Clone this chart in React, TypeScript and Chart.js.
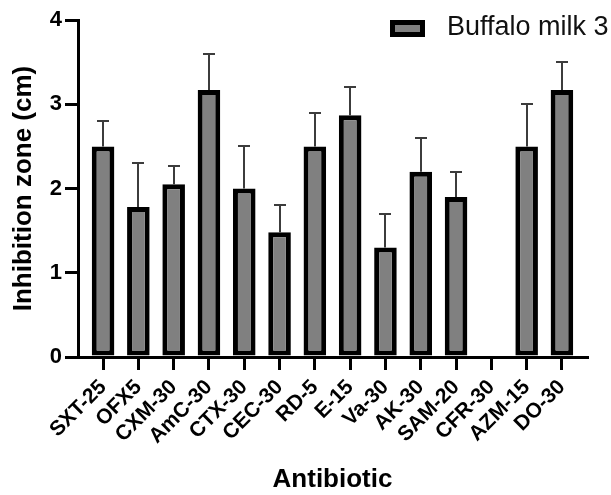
import { useEffect, useRef } from "react";
import { Chart, registerables } from "chart.js";
Chart.register(...registerables);

const categories = ["SXT-25", "OFX5", "CXM-30", "AmC-30", "CTX-30", "CEC-30", "RD-5", "E-15", "Va-30", "AK-30", "SAM-20", "CFR-30", "AZM-15", "DO-30"];
const means = [2.5, 1.78, 2.05, 3.17, 2.0, 1.48, 2.5, 2.87, 1.3, 2.2, 1.9, 0, 2.5, 3.17];
const sds = [0.3, 0.52, 0.22, 0.43, 0.5, 0.32, 0.4, 0.33, 0.4, 0.4, 0.3, 0, 0.5, 0.33];
const yTicks = [0, 1, 2, 3, 4];
const seriesLabel = "Buffalo milk 3";

const FONT = "'Liberation Sans', Arial, sans-serif";

const errorBars = {
  id: "errorBars",
  beforeDatasetsDraw(chart: any) {
    const { ctx } = chart;
    const meta = chart.getDatasetMeta(0);
    const ys = chart.scales.y;
    ctx.save();
    ctx.strokeStyle = "#3c3c3c";
    ctx.lineWidth = 2;
    meta.data.forEach((bar: any, i: number) => {
      if (!sds[i]) return;
      const x = Math.round(bar.x);
      const top = ys.getPixelForValue(means[i]);
      const cap = Math.round(ys.getPixelForValue(means[i] + sds[i]));
      ctx.beginPath();
      ctx.moveTo(x, top);
      ctx.lineTo(x, cap);
      ctx.moveTo(x - 6, cap);
      ctx.lineTo(x + 6, cap);
      ctx.stroke();
    });
    ctx.restore();
  },
};

const customLegend = {
  id: "customLegend",
  afterDraw(chart: any) {
    const { ctx } = chart;
    const ds = chart.data.datasets[0];
    const bx = 390, by = 20, bw = 35, bh = 17;
    ctx.save();
    ctx.fillStyle = ds.backgroundColor;
    ctx.fillRect(bx, by, bw, bh);
    ctx.strokeStyle = "#000";
    ctx.lineWidth = 5;
    ctx.strokeRect(bx + 2.5, by + 2.5, bw - 5, bh - 5);
    ctx.fillStyle = "#111";
    ctx.font = `27px ${FONT}`;
    ctx.textBaseline = "middle";
    ctx.textAlign = "left";
    ctx.fillText(ds.label, 447, 28);
    ctx.restore();
  },
};

export default function App() {
  const ref = useRef<HTMLCanvasElement | null>(null);
  useEffect(() => {
    document.body.style.margin = "0";
    const chart = new Chart(ref.current as HTMLCanvasElement, {
      type: "bar",
      data: {
        datasets: [
          {
            label: seriesLabel,
            data: means.map((v, i) => ({ x: i, y: v })),
            backgroundColor: "#808080",
            borderColor: "#000",
            borderWidth: 5,
            borderSkipped: false,
            barPercentage: 0.64,
            categoryPercentage: 1,
          },
        ],
      },
      options: {
        animation: false,
        responsive: true,
        maintainAspectRatio: false,
        layout: { padding: { top: 20, right: 24, left: 0, bottom: 0 } },
        plugins: { legend: { display: false }, tooltip: { enabled: false } },
        scales: {
          x: {
            type: "linear",
            offset: false,
            min: -0.71,
            max: 13.71,
            afterBuildTicks: (s: any) => {
              s.ticks = categories.map((_, i) => ({ value: i }));
            },
            afterFit: (s: any) => {
              s.height = 138;
            },
            ticks: {
              autoSkip: false,
              minRotation: 45,
              maxRotation: 45,
              includeBounds: false,
              padding: 5,
              color: "#000",
              font: { family: FONT, size: 21, weight: "bold" },
              callback: (v: any) => categories[v] ?? "",
            },
            grid: { display: true, offset: false, drawOnChartArea: false, drawTicks: true, tickLength: 13, lineWidth: 3, color: "#000" },
            border: { display: true, width: 3, color: "#000" },
            title: {
              display: true,
              text: "Antibiotic",
              color: "#000",
              font: { family: FONT, size: 26, weight: "bold" },
              padding: { top: 0, bottom: 0 },
            },
          },
          y: {
            min: 0,
            max: 4,
            afterBuildTicks: (s: any) => {
              s.ticks = yTicks.map((v) => ({ value: v }));
            },
            afterFit: (s: any) => {
              s.width = 78;
            },
            ticks: {
              padding: 3,
              color: "#000",
              font: { family: FONT, size: 22, weight: "bold" },
            },
            grid: { display: true, drawOnChartArea: false, drawTicks: true, tickLength: 13, lineWidth: 3, color: "#000" },
            border: { display: true, width: 3, color: "#000" },
            title: {
              display: true,
              text: "Inhibition zone (cm)",
              color: "#000",
              font: { family: FONT, size: 26, weight: "bold" },
              padding: { top: 8, bottom: 0 },
            },
          },
        },
      },
      plugins: [errorBars, customLegend],
    } as any);
    return () => chart.destroy();
  }, []);
  return (
    <div style={{ width: 611, height: 495, position: "relative" }}>
      <canvas ref={ref} />
    </div>
  );
}
